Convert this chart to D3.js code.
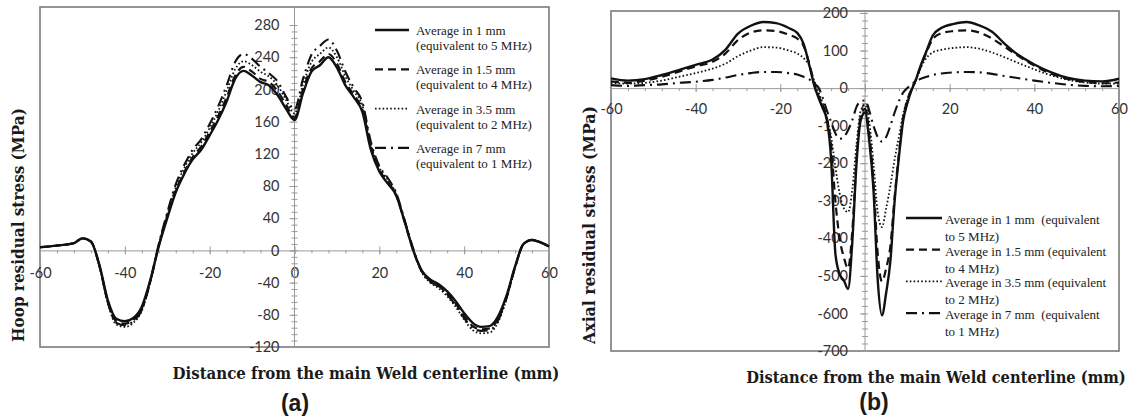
<!DOCTYPE html>
<html>
<head>
<meta charset="utf-8">
<script src="https://cdn.jsdelivr.net/npm/d3@7"></script>
<style>
  html, body { margin: 0; padding: 0; background: #fff; }
  svg { display: block; }
  .tick-label { font-family: Lato, "Open Sans", sans-serif; font-size: 14.5px; fill: #333; }
  .legend-text { font-family: "Liberation Serif", "Times New Roman", serif; font-size: 13px; fill: #222; white-space: pre; }
  .axis-title { font-family: "DejaVu Serif", serif; font-weight: bold; fill: #1a1a1a; }
  .panel-tag { font-family: "Liberation Sans", Arial, sans-serif; font-weight: bold; font-size: 23px; fill: #1a1a1a; }
</style>
</head>
<body>
<svg id="chart" width="1134" height="420"></svg>
<script>
// ---- Panel (a): hoop residual stress ----
const hoopX = [-60,-56,-52,-50,-48,-46,-44,-42,-40,-38,-36,-34,-32,-30,-28,-26,-24,-22,-20,-18,-16,-14,-12,-10,-8,-6,-4,-2,0,2,4,6,8,10,12,14,16,18,20,22,24,26,28,30,32,34,36,38,40,42,44,46,48,50,52,54,56,58,60];
const hoop1mm = [4,6,9,15,11,-18,-62,-85,-88,-84,-70,-37,5,40,72,95,113,125,143,162,185,213,223,217,209,205,193,176,162,195,222,230,240,227,205,190,172,125,98,83,68,35,0,-25,-36,-42,-51,-63,-78,-90,-95,-94,-82,-56,-20,8,13,10,5];
const hoop15mm = [4,6,9,15,11,-19,-64,-88,-91,-87,-72,-38,6,42,74,97,116,129,147,167,190,217,228,222,213,209,198,181,165,200,226,235,244,232,209,193,175,128,100,85,68,35,0,-26,-38,-44,-54,-66,-82,-94,-98,-97,-85,-58,-21,8,13,10,5];
const hoop35mm = [4,6,9,15,11,-20,-66,-92,-95,-90,-75,-40,7,45,78,102,121,134,152,173,198,225,235,230,222,216,205,187,170,206,234,244,252,240,216,198,180,132,103,88,70,36,1,-27,-40,-47,-57,-70,-86,-99,-103,-102,-89,-60,-22,8,13,10,5];
const hoop7mm = [4,6,9,15,11,-19,-65,-90,-93,-88,-74,-39,8,47,82,106,125,138,157,179,205,234,244,238,228,220,210,191,175,213,243,254,262,248,222,202,184,135,105,90,71,37,2,-26,-39,-45,-55,-68,-84,-96,-100,-99,-87,-59,-21,8,13,10,5];
const hoopTicks = [-120,-80,-40,0,40,80,120,160,200,240,280];

// ---- Panel (b): axial residual stress ----
const axialX = [-60,-56,-52,-48,-44,-40,-36,-33,-30,-27,-24,-21,-18,-16,-14.5,-13,-12,-11,-10,-9,-8,-7,-6,-5,-4,-3,-2,-1,0,1,2,3,4,5,6,7,8,9,10,11,12,13,14.5,16,18,21,24,27,30,33,36,40,44,48,52,56,60];
const axial1mm = [26,20,24,35,48,62,76,102,145,166,176,173,160,147,118,54,8,-25,-53,-85,-190,-440,-495,-512,-535,-410,-200,-85,-65,-140,-270,-510,-605,-545,-460,-300,-185,-88,-40,-5,22,55,98,140,160,171,176,167,150,118,90,63,42,27,20,18,25];
const axial15mm = [18,14,20,30,44,58,70,92,128,148,154,152,142,132,112,58,10,-20,-45,-80,-150,-300,-400,-450,-480,-380,-190,-75,-55,-120,-250,-440,-515,-480,-420,-290,-175,-80,-32,-2,22,52,95,130,146,152,154,148,132,110,87,60,38,24,16,13,15];
const axial35mm = [14,12,14,20,30,40,52,65,85,100,109,108,100,92,80,55,20,-10,-40,-80,-130,-210,-280,-320,-330,-270,-150,-60,-45,-90,-200,-330,-370,-320,-260,-190,-130,-70,-30,-5,20,50,80,95,102,107,109,105,95,82,68,50,34,22,15,12,12];
const axial7mm = [8,6,8,10,14,17,22,28,35,40,43,43,40,36,30,22,12,2,-25,-60,-90,-120,-135,-130,-112,-85,-50,-35,-33,-60,-100,-130,-142,-130,-100,-65,-35,-12,0,10,18,24,30,35,39,42,43,42,38,32,27,20,14,9,6,5,6];
const axialTicks = [-700,-600,-500,-400,-300,-200,-100,0,100,200];

const distTicks = [-60,-40,-20,0,20,40,60];
const seriesNames = [
  ["Average in 1 mm", "(equivalent to 5 MHz)"],
  ["Average in 1.5 mm", "(equivalent to 4 MHz)"],
  ["Average in 3.5 mm", "(equivalent to 2 MHz)"],
  ["Average in 7 mm", "(equivalent to 1 MHz)"]
];
const seriesNamesB = [
  ["Average in 1 mm  (equivalent", "to 5 MHz)"],
  ["Average in 1.5 mm (equivalent", "to 4 MHz)"],
  ["Average in 3.5 mm (equivalent", "to 2 MHz)"],
  ["Average in 7 mm  (equivalent", "to 1 MHz)"]
];

// line styles: solid, dashed, dotted, dash-dot
const styles = [
  { width: 2.4, dash: null },
  { width: 2.2, dash: "8,5" },
  { width: 1.8, dash: "1.6,2.2" },
  { width: 2.1, dash: "11,5,2,5" }
];

const svg = d3.select("#chart");
const axisColor = "#9a9a9a";

// Bold serif title squeezed horizontally to a target width (condensed look).
function condensedTitle(text, size, cx, cy, width, angle) {
  const t = svg.append("text").attr("class", "axis-title")
    .style("font-size", size + "px")
    .attr("text-anchor", "middle").attr("dy", "0.35em")
    .text(text);
  const natural = t.node().getComputedTextLength();
  const k = Math.min(1, width / natural);
  t.attr("transform", `translate(${cx},${cy}) rotate(${angle}) scale(${k},1)`);
  return t;
}

function drawPanel(cfg) {
  const g = svg.append("g");
  const x = d3.scaleLinear().domain([-60, 60]).range(cfg.xRange);
  const y = d3.scaleLinear().domain(cfg.yDomain).range(cfg.yRange);

  // plot frame
  g.append("rect")
    .attr("x", cfg.xRange[0]).attr("y", cfg.frameTop)
    .attr("width", cfg.xRange[1] - cfg.xRange[0])
    .attr("height", cfg.yRange[0] - cfg.frameTop)
    .attr("fill", "none").attr("stroke", "#7a7a7a").attr("stroke-width", 1.6);

  const x0 = x(0), y0 = y(0);

  // horizontal axis through y = 0
  const minorX = d3.range(-60, 61, 4);
  g.append("g").attr("transform", `translate(0,${y0})`)
    .call(d3.axisBottom(x).tickValues(minorX).tickSize(3).tickFormat(""))
    .call(a => a.select(".domain").remove());
  g.append("g").attr("transform", `translate(0,${y0})`)
    .call(d3.axisTop(x).tickValues(distTicks).tickSize(4).tickFormat(""))
    .call(a => a.select(".domain").remove());
  const xa = g.append("g").attr("transform", `translate(0,${y0})`)
    .call(d3.axisBottom(x).tickValues(distTicks).tickSize(4).tickPadding(cfg.xPad).tickSizeOuter(0)
      .tickFormat(d => String(d)));
  xa.selectAll("text").attr("class", "tick-label").attr("fill", null);

  // vertical axis through x = 0
  const minorY = d3.range(cfg.yDomain[0], cfg.yTicks[cfg.yTicks.length - 1] + 0.001, cfg.yMinor);
  g.append("g").attr("transform", `translate(${x0},0)`)
    .call(d3.axisRight(y).tickValues(minorY).tickSize(3).tickFormat(""))
    .call(a => a.select(".domain").remove());
  g.append("g").attr("transform", `translate(${x0},0)`)
    .call(d3.axisLeft(y).tickValues(minorY).tickSize(3).tickFormat(""))
    .call(a => a.select(".domain").remove());
  const ya = g.append("g").attr("transform", `translate(${x0},0)`)
    .call(d3.axisLeft(y).tickValues(cfg.yTicks).tickSize(5).tickPadding(cfg.yPad).tickSizeOuter(0)
      .tickFormat(d => String(d)));
  ya.select(".domain").attr("d", `M0,${cfg.frameTop}V${cfg.yRange[0]}`);
  ya.selectAll("text").attr("class", "tick-label").attr("fill", null);

  g.selectAll(".domain, .tick line").attr("stroke", axisColor).attr("stroke-width", 1);

  // data curves
  const line = d3.line().x(d => x(d[0])).y(d => y(d[1])).curve(d3.curveMonotoneX);
  cfg.series.forEach((ys, i) => {
    const pts = cfg.xs.map((v, k) => [v, ys[k]]);
    g.append("path").datum(pts)
      .attr("d", line)
      .attr("fill", "none")
      .attr("stroke", "#111")
      .attr("stroke-width", styles[i].width)
      .attr("stroke-dasharray", styles[i].dash)
      .attr("stroke-linejoin", "round");
  });

  // legend
  const lg = g.append("g");
  cfg.legendNames.forEach((name, i) => {
    const ly = cfg.legend.y0 + i * cfg.legend.step;
    lg.append("line")
      .attr("x1", cfg.legend.x1).attr("x2", cfg.legend.x2)
      .attr("y1", ly).attr("y2", ly)
      .attr("stroke", "#111")
      .attr("stroke-width", styles[i].width)
      .attr("stroke-dasharray", styles[i].dash);
    lg.append("text").attr("class", "legend-text")
      .attr("x", cfg.legend.tx).attr("y", ly + cfg.legend.base)
      .text(name[0]);
    lg.append("text").attr("class", "legend-text")
      .attr("x", cfg.legend.tx).attr("y", ly + cfg.legend.base + cfg.legend.lineGap)
      .text(name[1]);
  });

  // axis titles
  condensedTitle(cfg.yTitle.text, 16, cfg.yTitle.x, cfg.yTitle.y, cfg.yTitle.len, -90);
  condensedTitle("Distance from the main Weld centerline (mm)", 17,
    cfg.xTitle.x, cfg.xTitle.y, cfg.xTitle.len, 0);

  svg.append("text").attr("class", "panel-tag")
    .attr("x", cfg.tag.x).attr("y", cfg.tag.y)
    .attr("text-anchor", "middle")
    .text(cfg.tag.text);
}

drawPanel({
  xs: hoopX,
  series: [hoop1mm, hoop15mm, hoop35mm, hoop7mm],
  xRange: [40, 549],
  yDomain: [-120, 280],
  yRange: [347, 25],
  frameTop: 7,
  yTicks: hoopTicks,
  yMinor: 8,
  xPad: 13,
  yPad: 10,
  legendNames: seriesNames,
  legend: { x1: 375, x2: 409, tx: 416, y0: 30, step: 39.3, base: 5, lineGap: 15 },
  yTitle: { x: 18, y: 225, len: 234, text: "Hoop residual stress (MPa)" },
  xTitle: { x: 366, y: 373, len: 387 },
  tag: { x: 295, y: 411, text: "(a)" }
});

drawPanel({
  xs: axialX,
  series: [axial1mm, axial15mm, axial35mm, axial7mm],
  xRange: [611, 1119],
  yDomain: [-700, 200],
  yRange: [351, 13],
  frameTop: 11,
  yTicks: axialTicks,
  yMinor: 20,
  xPad: 12,
  yPad: 12,
  legendNames: seriesNamesB,
  legend: { x1: 906, x2: 942, tx: 945, y0: 218, step: 31.7, base: 6, lineGap: 17 },
  yTitle: { x: 589, y: 225, len: 238, text: "Axial residual stress (MPa)" },
  xTitle: { x: 936, y: 377, len: 380 },
  tag: { x: 874, y: 410, text: "(b)" }
});
</script>
</body>
</html>
